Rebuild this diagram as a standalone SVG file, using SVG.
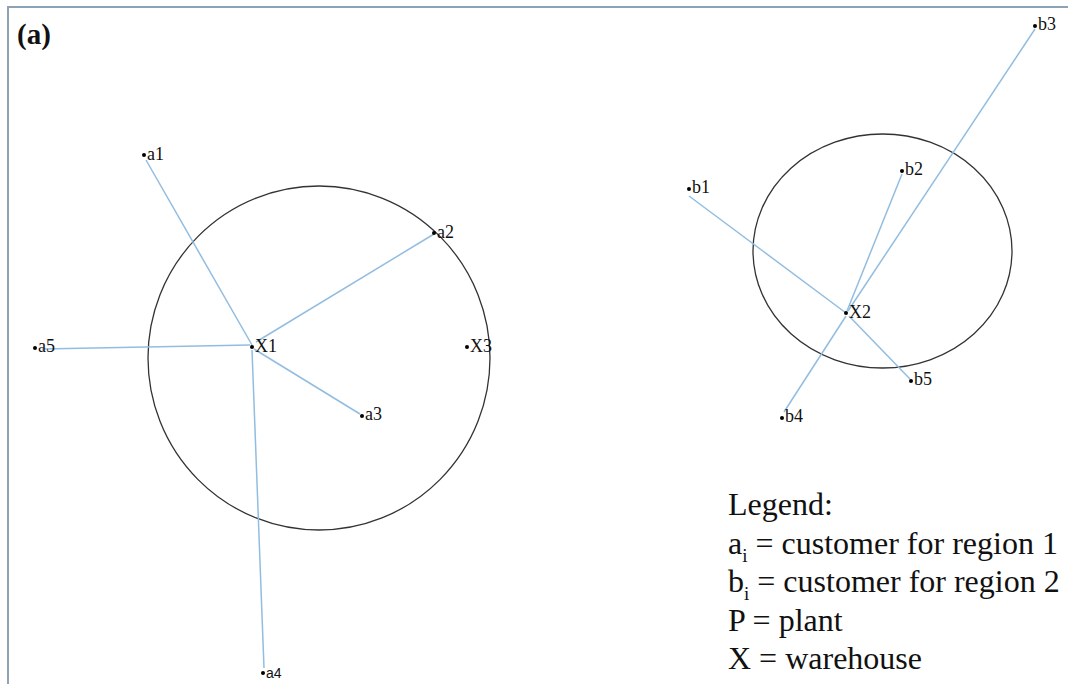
<svg xmlns="http://www.w3.org/2000/svg" width="1068" height="684" viewBox="0 0 1068 684">
<style>
.frame{fill:none;stroke:#8ea2b6;stroke-width:2}
.reg{fill:none;stroke:#333;stroke-width:1.3}
.ln{stroke:#92bde0;stroke-width:1.5;fill:none}
.dot{fill:#000}
.lbl{font-family:"Liberation Serif",serif;font-size:18px;fill:#111}
.lg{font-family:"Liberation Serif",serif;font-size:32px;fill:#111}
.sub{font-size:19px}
.title{font-family:"Liberation Serif",serif;font-size:29px;font-weight:bold;fill:#111}
</style>
<rect width="1068" height="684" fill="#fff"/>
<rect class="frame" x="8" y="7" width="1080" height="700"/>
<text class="title" x="17" y="44">(a)</text>
<ellipse class="reg" cx="319" cy="358" rx="171" ry="172"/>
<ellipse class="reg" cx="882.5" cy="251" rx="129.5" ry="117"/>
<g id="connectors">
<line class="ln" x1="146" y1="160" x2="252" y2="345"/>
<line class="ln" x1="256" y1="342" x2="434" y2="234"/>
<line class="ln" x1="42" y1="349" x2="250" y2="345"/>
<line class="ln" x1="254" y1="349" x2="360" y2="414"/>
<line class="ln" x1="252" y1="350" x2="264" y2="668"/>
<line class="ln" x1="689" y1="196" x2="846" y2="313"/>
<line class="ln" x1="849" y1="316" x2="910" y2="379"/>
<line class="ln" x1="902" y1="174" x2="847" y2="311"/>
<line class="ln" x1="1035" y1="29" x2="848" y2="311"/>
<line class="ln" x1="784" y1="412" x2="846" y2="316"/>
</g>
<g id="a1"><circle class="dot" cx="144" cy="155" r="2"/><text class="lbl" x="147" y="160">a1</text></g>
<g id="a2"><circle class="dot" cx="434" cy="233" r="2"/><text class="lbl" x="437" y="238">a2</text></g>
<g id="a3"><circle class="dot" cx="362" cy="416" r="2"/><text class="lbl" x="365" y="420">a3</text></g>
<g id="a4"><circle class="dot" cx="263" cy="673" r="2"/><text x="266" y="678" style="font-family:'Liberation Sans',sans-serif;font-size:14px;fill:#111">a4</text></g>
<g id="a5"><circle class="dot" cx="35" cy="348" r="2"/><text class="lbl" x="38" y="352">a5</text></g>
<g id="X1"><circle class="dot" cx="252" cy="347" r="2"/><text class="lbl" x="255" y="352">X1</text></g>
<g id="X3"><circle class="dot" cx="467" cy="347" r="2"/><text class="lbl" x="470" y="352">X3</text></g>
<g id="X2"><circle class="dot" cx="846" cy="313" r="2"/><text class="lbl" x="849" y="318">X2</text></g>
<g id="b1"><circle class="dot" cx="689" cy="189" r="2"/><text class="lbl" x="692" y="193">b1</text></g>
<g id="b2"><circle class="dot" cx="902" cy="171" r="2"/><text class="lbl" x="905" y="175">b2</text></g>
<g id="b3"><circle class="dot" cx="1035" cy="26" r="2"/><text class="lbl" x="1038" y="30">b3</text></g>
<g id="b4"><circle class="dot" cx="782" cy="418" r="2"/><text class="lbl" x="785" y="422">b4</text></g>
<g id="b5"><circle class="dot" cx="911" cy="381" r="2"/><text class="lbl" x="914" y="385">b5</text></g>
<g id="legend">
<text class="lg" x="728" y="515">Legend:</text>
<text class="lg" x="728" y="554">a<tspan class="sub" dy="8">i</tspan><tspan dy="-8"> = customer for region 1</tspan></text>
<text class="lg" x="728" y="592">b<tspan class="sub" dy="8">i</tspan><tspan dy="-8"> = customer for region 2</tspan></text>
<text class="lg" x="728" y="631">P = plant</text>
<text class="lg" x="728" y="669">X = warehouse</text>
</g>
</svg>
